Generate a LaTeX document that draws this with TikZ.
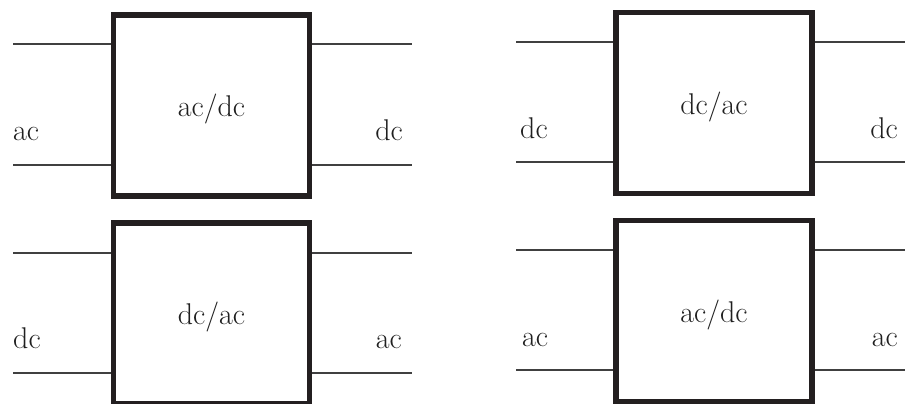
\documentclass[tikz,border=0pt]{standalone}
\usetikzlibrary{calc}
\definecolor{boxline}{HTML}{231F20}
\definecolor{wireline}{HTML}{404040}
\definecolor{labeltext}{HTML}{1F1F1F}
\tikzset{
	conv/.style={draw=boxline,line width=5.5pt,minimum width=196pt,minimum height=181pt,
		inner sep=0pt,text height=26pt,text depth=4pt,text=labeltext,font=\fontsize{30}{36}\selectfont},
	wire/.style={draw=wireline,line width=2pt},
	side/.style={inner sep=0pt,text=labeltext,font=\fontsize{30}{36}\selectfont}
}

\begin{document}
\begin{tikzpicture}[x=1pt,y=1pt]
				\useasboundingbox (0,0) rectangle (905,-404);
				% box: name/centre x/centre y/text/left/right/line start/line end/left text x/right text x
				\foreach \n/\cx/\cy/\txt/\lt/\rt/\le/\re/\lx/\rx in {
						1/211.5/105.5/{ac/dc}/ac/dc/13/412/13/403,
						2/714/103/{dc/ac}/dc/dc/516/905/520/898,
						3/211.5/313.5/{dc/ac}/dc/ac/13/412/13/402,
						4/714/311/{ac/dc}/ac/ac/516/905/522/898}{
					\node[conv] (box\n) at (\cx,-\cy) {\txt};
					\coordinate (inA\n) at (\le,-\cy+61);
					\coordinate (inB\n) at (\le,-\cy-59);
					\coordinate (outA\n) at (\re,-\cy+61);
					\coordinate (outB\n) at (\re,-\cy-59);
					\draw[wire] (inA\n) -- (inA\n -| box\n.west);
					\draw[wire] (inB\n) -- (inB\n -| box\n.west);
					\draw[wire] (box\n.east |- outA\n) -- (outA\n);
					\draw[wire] (box\n.east |- outB\n) -- (outB\n);
					\node[side,anchor=base west] (left\n) at (\lx,-\cy-35) {\lt};
					\node[side,anchor=base east] (right\n) at (\rx,-\cy-35) {\rt};
				}
\end{tikzpicture}
\end{document}
